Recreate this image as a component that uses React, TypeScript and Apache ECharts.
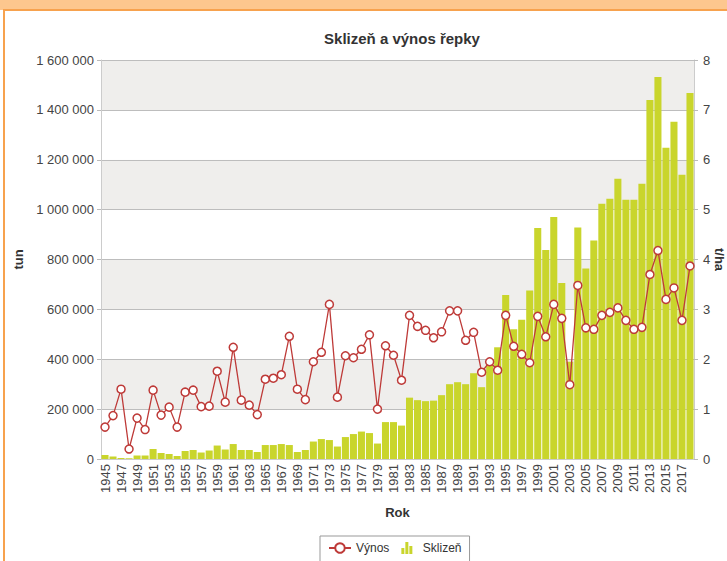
import React, { useEffect, useRef } from "react";
import * as echarts from "echarts";

const years = [
  "1945","1946","1947","1948","1949","1950","1951","1952","1953","1954",
  "1955","1956","1957","1958","1959","1960","1961","1962","1963","1964",
  "1965","1966","1967","1968","1969","1970","1971","1972","1973","1974",
  "1975","1976","1977","1978","1979","1980","1981","1982","1983","1984",
  "1985","1986","1987","1988","1989","1990","1991","1992","1993","1994",
  "1995","1996","1997","1998","1999","2000","2001","2002","2003","2004",
  "2005","2006","2007","2008","2009","2010","2011","2012","2013","2014",
  "2015","2016","2017","2018",
];

const harvest = [
  16000, 10000, 4000, 3000, 14000, 14000, 40000, 24000, 20000, 12000,
  32000, 36000, 26000, 34000, 54000, 38000, 60000, 36000, 36000, 28000,
  56000, 56000, 60000, 56000, 28000, 36000, 70000, 80000, 76000, 50000,
  88000, 100000, 110000, 104000, 62000, 148000, 148000, 134000, 246000, 236000,
  232000, 234000, 256000, 300000, 308000, 300000, 344000, 288000, 385000, 448000,
  658000, 520000, 558000, 676000, 926000, 838000, 970000, 706000, 390000, 928000,
  764000, 876000, 1024000, 1044000, 1124000, 1040000, 1040000, 1104000, 1440000, 1532000,
  1248000, 1352000, 1140000, 1468000,
];

const yieldHa = [
  0.64, 0.87, 1.4, 0.2, 0.82, 0.59, 1.38, 0.88, 1.04, 0.64,
  1.34, 1.38, 1.05, 1.06, 1.76, 1.14, 2.24, 1.18, 1.08, 0.89,
  1.6, 1.62, 1.69, 2.46, 1.4, 1.19, 1.95, 2.14, 3.1, 1.24,
  2.07, 2.03, 2.2, 2.49, 1.0, 2.27, 2.08, 1.58, 2.88, 2.66,
  2.58, 2.43, 2.55, 2.97, 2.97, 2.38, 2.54, 1.74, 1.95, 1.78,
  2.88, 2.26, 2.1, 1.93, 2.86, 2.45, 3.1, 2.82, 1.49, 3.48,
  2.63, 2.6, 2.88, 2.94, 3.03, 2.78, 2.6, 2.64, 3.7, 4.18,
  3.2, 3.43, 2.78, 3.87,
];

const FONT = "'Liberation Sans', Arial, sans-serif";
const BAR_ICON = "path://M0,12V6H3V12ZM4,12V0H7V12ZM8,12V4H11V12Z";

export default function App() {
  const ref = useRef<HTMLDivElement>(null);

  useEffect(() => {
    if (!ref.current) return;
    const chart = echarts.init(ref.current, null, { renderer: "svg" });
    const fmt = (v: number) =>
      String(v).replace(/\B(?=(\d{3})+(?!\d))/g, " ");
    chart.setOption({
      animation: false,
      textStyle: { fontFamily: FONT },
      title: {
        text: "Sklizeň a výnos řepky",
        left: 397,
        textAlign: "center",
        top: 26,
        textStyle: { fontSize: 15, fontWeight: "bold", color: "#333", fontFamily: FONT },
      },
      grid: {
        left: 101,
        right: 33,
        top: 60,
        bottom: 102,
        containLabel: false,
        outerBoundsMode: "none",
      },
      legend: {
        data: [
          { name: "Výnos" },
          { name: "Sklizeň", icon: BAR_ICON, itemStyle: { color: "#C9D52C" } },
        ],
        left: 320,
        top: 536,
        padding: [6, 8, 10, 8],
        borderColor: "#999",
        borderWidth: 1,
        itemGap: 12,
        itemWidth: 22,
        itemHeight: 12,
        textStyle: { fontSize: 12, color: "#333", fontFamily: FONT },
      },
      xAxis: {
        type: "category",
        data: years,
        name: "Rok",
        nameLocation: "middle",
        nameGap: 47,
        nameTextStyle: { fontSize: 13, fontWeight: "bold", color: "#333" },
        axisLine: { show: true, lineStyle: { color: "#ccc" } },
        axisTick: { show: false },
        axisLabel: {
          interval: 1,
          rotate: 90,
          fontSize: 13,
          color: "#444",
          margin: 5,
        },
      },
      yAxis: [
        {
          type: "value",
          min: 0,
          max: 1600000,
          interval: 200000,
          name: "tun",
          nameLocation: "middle",
          nameGap: 68,
          nameRotate: 90,
          nameTextStyle: { fontSize: 13, fontWeight: "bold", color: "#333" },
          axisLine: { show: true, lineStyle: { color: "#ccc" } },
          axisTick: { show: true, length: 4, lineStyle: { color: "#bbb" } },
          axisLabel: { formatter: fmt, fontSize: 13, color: "#444", margin: 7 },
          splitLine: { show: true, lineStyle: { color: "#bdbdbd" } },
          splitArea: { show: true, areaStyle: { color: ["#ffffff", "#EFEEEC"] } },
        },
        {
          type: "value",
          min: 0,
          max: 8,
          interval: 1,
          name: "t/ha",
          nameLocation: "middle",
          nameGap: 19,
          nameMoveOverlap: false,
          nameRotate: -90,
          nameTextStyle: { fontSize: 13, fontWeight: "bold", color: "#333" },
          axisLine: { show: true, lineStyle: { color: "#ccc" } },
          axisTick: { show: true, length: 4, lineStyle: { color: "#bbb" } },
          axisLabel: { fontSize: 13, color: "#444", margin: 9 },
          splitLine: { show: false },
        },
      ],
      series: [
        {
          name: "Sklizeň",
          type: "bar",
          data: harvest,
          yAxisIndex: 0,
          barCategoryGap: "12%",
          itemStyle: { color: "#C9D52C" },
        },
        {
          name: "Výnos",
          type: "line",
          data: yieldHa,
          yAxisIndex: 1,
          symbol: "circle",
          symbolSize: 8,
          showAllSymbol: true,
          z: 5,
          lineStyle: { color: "#BE3A38", width: 1.3 },
          itemStyle: { color: "#ffffff", borderColor: "#BE3A38", borderWidth: 1.5 },
        },
      ],
    });
    return () => chart.dispose();
  }, []);

  return (
    <div style={{ position: "fixed", left: 0, top: 0, width: 727, height: 561, overflow: "hidden", background: "#fff" }}>
      <div style={{ position: "absolute", left: 0, top: 0, width: 727, height: 10, background: "#FDC78E" }} />
      <div
        style={{
          position: "absolute",
          left: 3,
          top: 9,
          width: 800,
          height: 600,
          border: "2px solid #F7A24E",
          background: "#fff",
        }}
      />
      <div ref={ref} style={{ position: "absolute", left: 0, top: 0, width: 727, height: 561 }} />
    </div>
  );
}
